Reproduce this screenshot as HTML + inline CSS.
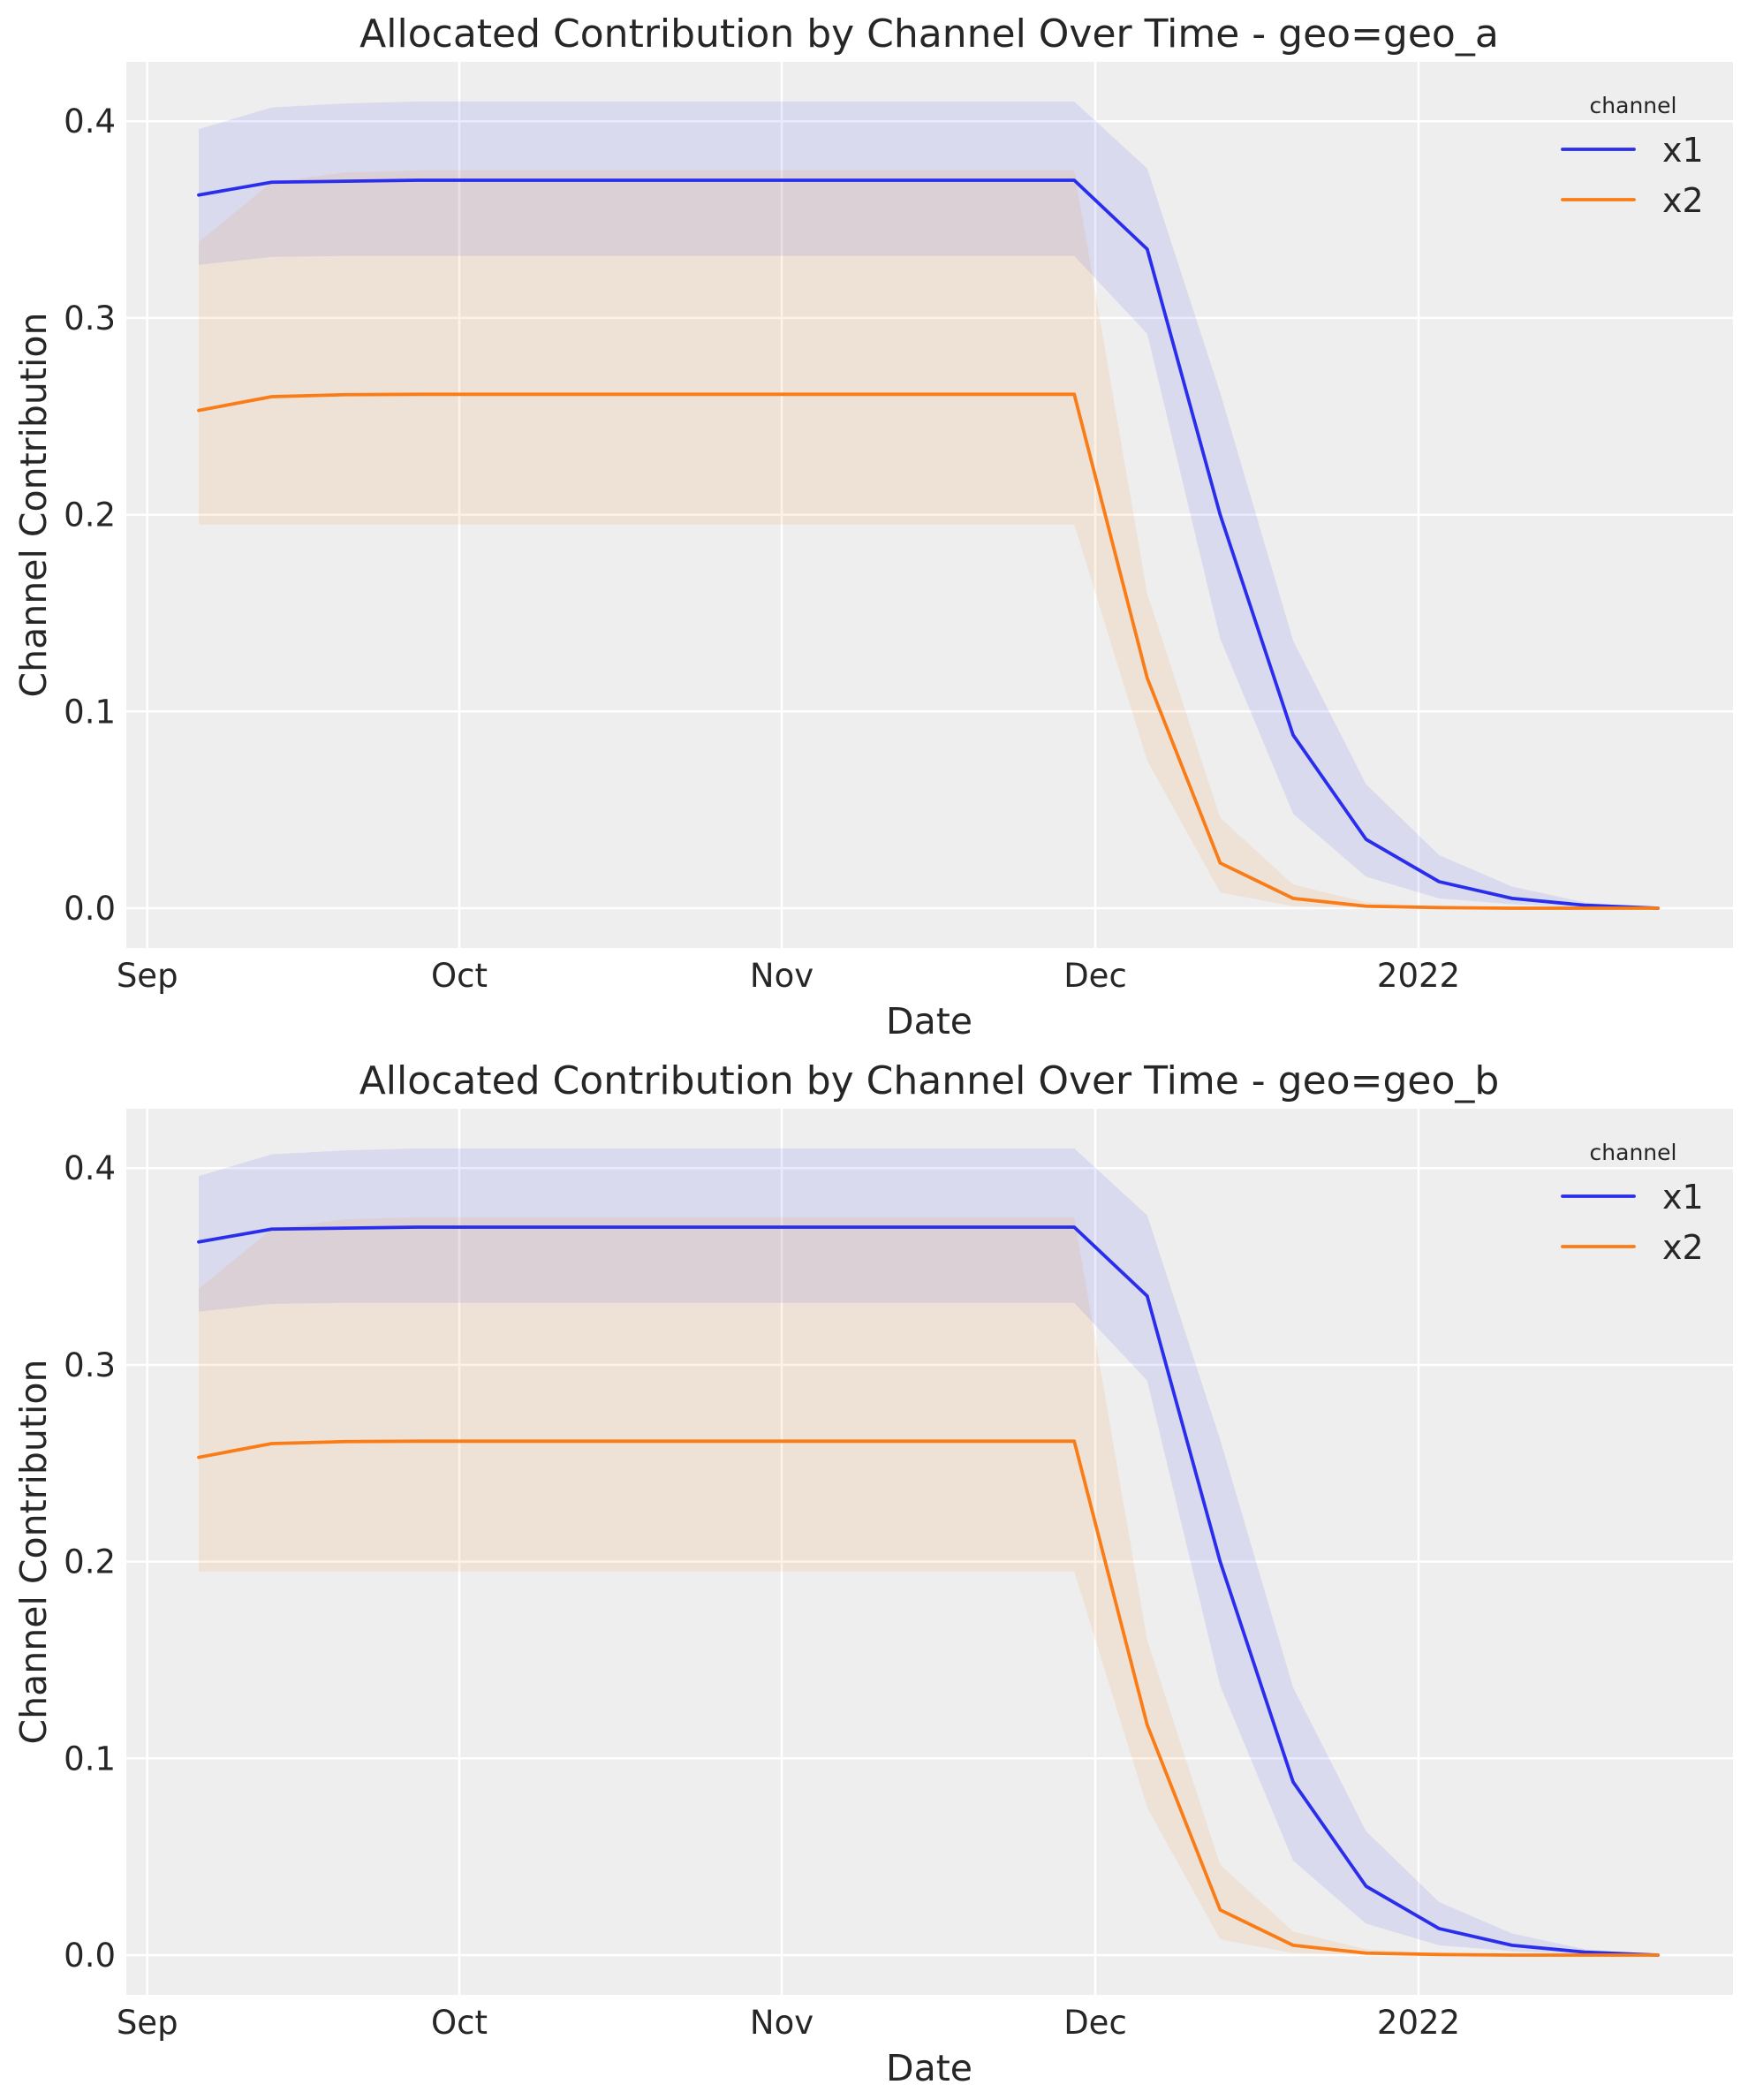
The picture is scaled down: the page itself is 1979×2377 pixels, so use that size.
<!DOCTYPE html>
<html><head><meta charset="utf-8"><style>
html,body{margin:0;padding:0;background:#fff;}
svg{display:block;font-family:"DejaVu Sans","Liberation Sans",sans-serif;}
</style></head><body>
<svg id="s" width="1979" height="2377" viewBox="0 0 1979 2377" xmlns="http://www.w3.org/2000/svg"></svg>
<script>
const s=document.getElementById('s');
const X0=143,X1=1962;
const xs=k=>225+82.6*k;
const m1=[0.3625,0.369,0.3695,0.37,0.37,0.37,0.37,0.37,0.37,0.37,0.37,0.37,0.37,0.335,0.2,0.088,0.035,0.0135,0.005,0.0015,0];
const u1=[0.396,0.407,0.409,0.41,0.41,0.41,0.41,0.41,0.41,0.41,0.41,0.41,0.41,0.376,0.262,0.136,0.063,0.027,0.011,0.003,0];
const l1=[0.327,0.331,0.3315,0.3315,0.3315,0.3315,0.3315,0.3315,0.3315,0.3315,0.3315,0.3315,0.3315,0.292,0.137,0.048,0.016,0.005,0.002,0.0005,0];
const m2=[0.253,0.26,0.261,0.2612,0.2612,0.2612,0.2612,0.2612,0.2612,0.2612,0.2612,0.2612,0.2612,0.117,0.023,0.005,0.001,0.0003,0,0,0];
const u2=[0.3386,0.369,0.374,0.375,0.375,0.375,0.375,0.375,0.375,0.375,0.375,0.375,0.375,0.16,0.046,0.012,0.003,0.0008,0.0002,0,0];
const l2=[0.195,0.195,0.195,0.195,0.195,0.195,0.195,0.195,0.195,0.195,0.195,0.195,0.195,0.075,0.008,0.001,0.0002,0,0,0,0];
let h='';
function panel(off,geo){
  const Y=v=>1028+off-v*2227;
  const top=70+off,bot=1073+off;
  h+=`<rect x="${X0}" y="${top}" width="${X1-X0}" height="${bot-top}" fill="#eeeeee"/>`;
  const months=[[166.7,'Sep'],[520,'Oct'],[885,'Nov'],[1240,'Dec'],[1606,'2022']];
  for(const [x,t] of months){
    h+=`<line x1="${x}" y1="${top}" x2="${x}" y2="${bot}" stroke="#fff" stroke-width="2.5"/>`;
    h+=`<text x="${x}" y="${1117+off}" font-size="37" fill="#262626" text-anchor="middle">${t}</text>`;
  }
  for(let i=0;i<=4;i++){
    const y=Y(i/10);
    h+=`<line x1="${X0}" y1="${y}" x2="${X1}" y2="${y}" stroke="#fff" stroke-width="2.5"/>`;
    h+=`<text x="131" y="${y+13}" font-size="37" fill="#262626" text-anchor="end">${(i/10).toFixed(1)}</text>`;
  }
  const band=(u,l,c)=>{let p=u.map((v,k)=>xs(k)+','+Y(v));for(let k=l.length-1;k>=0;k--)p.push(xs(k)+','+Y(l[k]));h+=`<polygon points="${p.join(' ')}" fill="${c}" fill-opacity="0.1"/>`;};
  band(u1,l1,'#2a2eec');band(u2,l2,'#fa7c17');
  const line=(m,c)=>{h+=`<polyline points="${m.map((v,k)=>xs(k)+','+Y(v)).join(' ')}" fill="none" stroke="${c}" stroke-width="3.8" stroke-linejoin="round" stroke-linecap="round"/>`;};
  line(m1,'#2a2eec');line(m2,'#fa7c17');
  h+=`<text x="1052" y="${53+off}" font-size="44" fill="#262626" text-anchor="middle">Allocated Contribution by Channel Over Time - geo=${geo}</text>`;
  h+=`<text x="1052" y="${1170+off}" font-size="41" fill="#262626" text-anchor="middle">Date</text>`;
  h+=`<text transform="translate(52,${(top+bot)/2}) rotate(-90)" font-size="41" fill="#262626" text-anchor="middle">Channel Contribution</text>`;
  h+=`<text x="1849" y="${128+off}" font-size="25" fill="#262626" text-anchor="middle">channel</text>`;
  h+=`<line x1="1769" y1="${169+off}" x2="1850" y2="${169+off}" stroke="#2a2eec" stroke-width="3.8" stroke-linecap="round"/>`;
  h+=`<line x1="1769" y1="${226+off}" x2="1850" y2="${226+off}" stroke="#fa7c17" stroke-width="3.8" stroke-linecap="round"/>`;
  h+=`<text x="1882" y="${183+off}" font-size="38" fill="#262626">x1</text>`;
  h+=`<text x="1882" y="${240+off}" font-size="38" fill="#262626">x2</text>`;
}
panel(0,'geo_a');panel(1185,'geo_b');
s.innerHTML=h;
</script>
</body></html>
